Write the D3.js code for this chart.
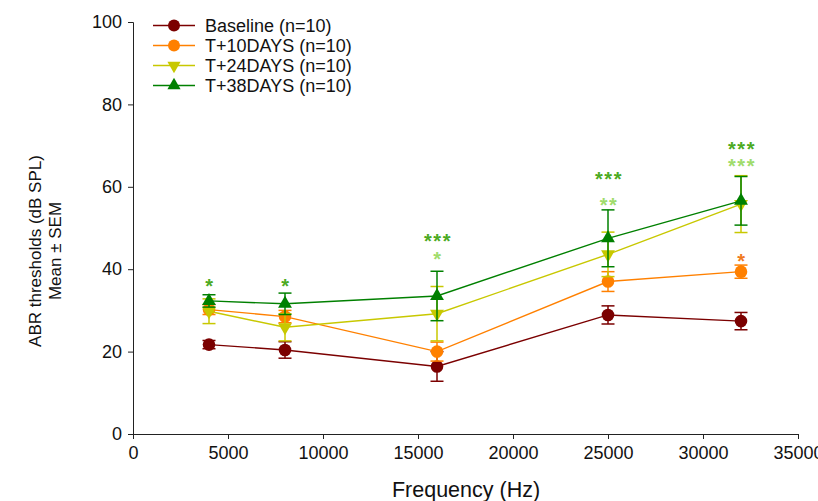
<!DOCTYPE html>
<html><head><meta charset="utf-8">
<script src="https://cdn.jsdelivr.net/npm/d3@7"></script>
<style>body{margin:0;background:#fff}svg{display:block}text{font-family:"Liberation Sans",Arial,sans-serif}</style>
</head><body>
<svg id="c" width="818" height="501"></svg>
<script>
const freqs = [4000, 8000, 16000, 25000, 32000];
const seriesNames = ["Baseline (n=10)", "T+10DAYS (n=10)", "T+24DAYS (n=10)", "T+38DAYS (n=10)"];
const baselineMean = [21.7, 20.4, 16.4, 28.9, 27.4];
const baselineSem = [1.0, 2.0, 3.6, 2.2, 2.1];
const t10Mean = [30.2, 28.5, 20.0, 37.0, 39.4];
const t10Sem = [1.2, 1.5, 2.3, 2.4, 1.6];
const t24Mean = [29.8, 25.9, 29.2, 43.6, 55.8];
const t24Sem = [3.0, 3.3, 6.6, 5.4, 6.9];
const t38Mean = [32.3, 31.6, 33.5, 47.5, 56.6];
const t38Sem = [1.5, 2.6, 6.0, 6.9, 5.9];
const colors = ["#7b0000", "#ff8000", "#c8c800", "#008000"];
const markers = ["circle", "circle", "down", "up"];
const xTicks = [0, 5000, 10000, 15000, 20000, 25000, 30000, 35000];
const yTicks = [0, 20, 40, 60, 80, 100];
// significance annotations
const sigFreq = [4000, 8000, 16000, 16000, 25000, 25000, 32000, 32000, 32000];
const sigText = ["*", "*", "***", "*", "***", "**", "***", "***", "*"];
const sigVal = [36.5, 36.5, 47.3, 43, 62.3, 56, 69.7, 65.6, 42.5];
const sigCol = ["g", "g", "g", "l", "g", "l", "g", "l", "o"];
const sigColors = {g: "#4caa22", l: "#a0dc6c", o: "#f07a1e"};

const means = [baselineMean, t10Mean, t24Mean, t38Mean];
const sems = [baselineSem, t10Sem, t24Sem, t38Sem];

const svg = d3.select("#c");
const x = d3.scaleLinear().domain([0, 35000]).range([133, 798]);
const y = d3.scaleLinear().domain([0, 100]).range([434, 22]);

const axisCol = "#222";
const gx = svg.append("g").attr("transform", `translate(0,${y(0)})`)
  .call(d3.axisBottom(x).tickValues(xTicks).tickFormat(d3.format("d")).tickSizeOuter(0).tickSize(5).tickPadding(7));
const gy = svg.append("g").attr("transform", `translate(${x(0)},0)`)
  .call(d3.axisLeft(y).tickValues(yTicks).tickSizeOuter(0).tickSize(5).tickPadding(6));
[gx, gy].forEach(g => {
  g.attr("font-size", 18).attr("font-family", "Liberation Sans, Arial, sans-serif");
  g.selectAll("path,line").attr("stroke", axisCol).attr("stroke-width", 1);
  g.selectAll("text").attr("font-size", 18).attr("fill", "#111");
});

svg.append("text").attr("x", 466).attr("y", 497).attr("text-anchor", "middle")
  .attr("font-size", 21.5).attr("fill", "#111").text("Frequency (Hz)");
const yl = svg.append("text").attr("transform", "translate(41,251) rotate(-90)")
  .attr("text-anchor", "middle").attr("font-size", 17).attr("fill", "#111");
yl.append("tspan").attr("x", 0).attr("dy", 0).text("ABR thresholds (dB SPL)");
yl.append("tspan").attr("x", 0).attr("dy", 20).text("Mean \u00b1 SEM");

function marker(g, type, cx, cy, col, s) {
  if (type === "circle") g.append("circle").attr("cx", cx).attr("cy", cy).attr("r", s).attr("fill", col);
  else {
    const sym = d3.symbol().type(d3.symbolTriangle).size(s * s * 2.1);
    g.append("path").attr("d", sym()).attr("fill", col)
      .attr("transform", `translate(${cx},${cy})` + (type === "down" ? " rotate(180)" : ""));
  }
}

const line = d3.line().x((d, i) => x(freqs[i])).y(d => y(d));
means.forEach((m, si) => {
  const g = svg.append("g");
  g.append("path").attr("d", line(m)).attr("fill", "none").attr("stroke", colors[si]).attr("stroke-width", 1.4);
  m.forEach((v, i) => {
    const cx = x(freqs[i]), e = sems[si][i];
    g.append("line").attr("x1", cx).attr("x2", cx).attr("y1", y(v - e)).attr("y2", y(v + e)).attr("stroke", colors[si]).attr("stroke-width", 1.5);
    [v - e, v + e].forEach(b => g.append("line").attr("x1", cx - 6.5).attr("x2", cx + 6.5).attr("y1", y(b)).attr("y2", y(b)).attr("stroke", colors[si]).attr("stroke-width", 1.5));
    marker(g, markers[si], cx, y(v), colors[si], 6.3);
  });
});

// one text element per frequency, each row a tspan
const sigGroups = d3.group(d3.range(sigFreq.length), i => sigFreq[i]);
sigGroups.forEach((idx, f) => {
  const t = svg.append("text").attr("text-anchor", "middle")
    .attr("font-size", 20).attr("font-weight", "bold").attr("letter-spacing", 1.5);
  idx.forEach(i => {
    t.append("tspan").attr("x", x(f) + 1).attr("y", y(sigVal[i]) + 9)
      .attr("fill", sigColors[sigCol[i]]).text(sigText[i]);
  });
});

const leg = svg.append("g");
seriesNames.forEach((n, i) => {
  const ly = 25.5 + i * 20;
  leg.append("line").attr("x1", 153).attr("x2", 195).attr("y1", ly).attr("y2", ly).attr("stroke", colors[i]).attr("stroke-width", 1.4);
  marker(leg, markers[i], 174, ly, colors[i], 6);
  leg.append("text").attr("x", 205).attr("y", ly + 6.5).attr("font-size", 18).attr("fill", "#111").text(n);
});
</script>
</body></html>
